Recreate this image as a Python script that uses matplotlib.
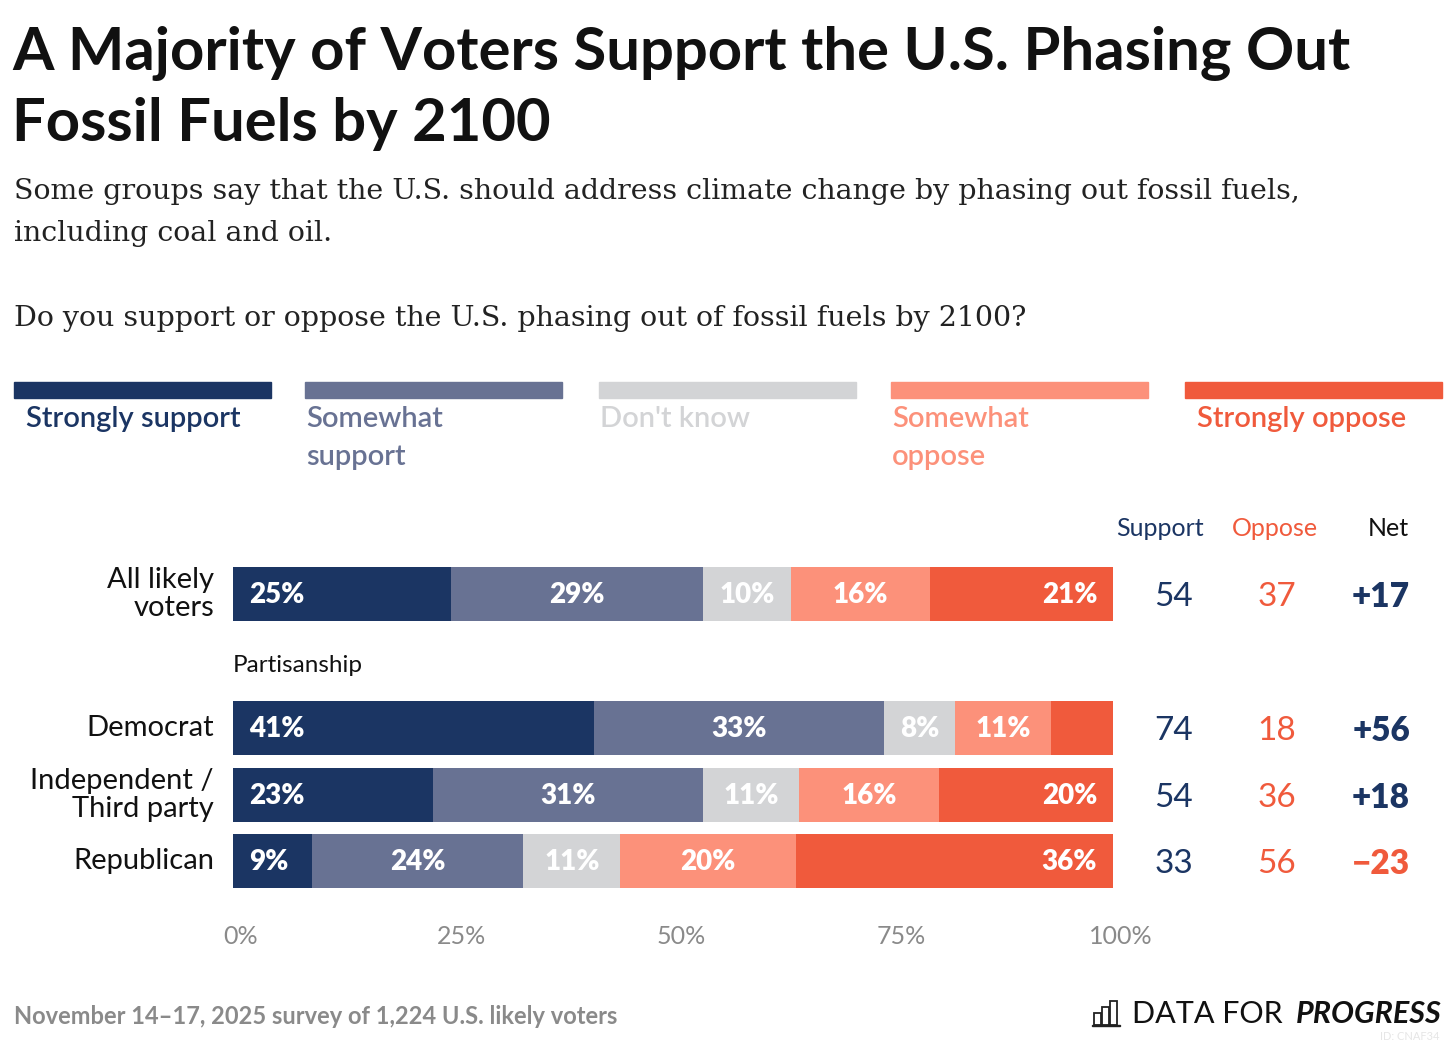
import matplotlib.pyplot as plt
import numpy as np

W, H = 1456, 1044

categories = ["Strongly support", "Somewhat support", "Don't know", "Somewhat oppose", "Strongly oppose"]
legend_labels = ["Strongly support", "Somewhat\nsupport", "Don't know", "Somewhat\noppose", "Strongly oppose"]
colors = ["#1b3563", "#687293", "#d3d4d6", "#fc917a", "#f05a3c"]
label_colors = ["#1b3563", "#687293", "#d3d4d6", "#fc917a", "#f05a3c"]

groups = ["All likely\nvoters", "Democrat", "Independent /\nThird party", "Republican"]
values = [
    [25, 29, 10, 16, 21],
    [41, 33, 8, 11, 7],
    [23, 31, 11, 16, 20],
    [9, 24, 11, 20, 36],
]
support = [54, 74, 54, 33]
oppose = [37, 18, 36, 56]
net = ["+17", "+56", "+18", "\u221223"]

SANS = ["Lato", "DejaVu Sans"]
SERIF = ["DejaVu Serif"]
plt.rcParams["font.family"] = SANS

fig = plt.figure(figsize=(W / 100, H / 100), dpi=100)


def px(x, y):
    return x / W, 1 - y / H


def text(x, y, s, **kw):
    fig.text(*px(x, y), s, **kw)


text(12, 26, "A Majority of Voters Support the U.S. Phasing Out\nFossil Fuels by 2100",
     fontsize=43, fontweight="bold", color="#111111", va="top", linespacing=1.36)
text(14, 178, "Some groups say that the U.S. should address climate change by phasing out fossil fuels,\n"
     "including coal and oil.", fontsize=20.5, family=SERIF, color="#222222", va="top", linespacing=1.72)
text(14, 318, "Do you support or oppose the U.S. phasing out of fossil fuels by 2100?",
     fontsize=20.5, family=SERIF, color="#222222", va="center")

# legend
leg_x = [14, 305, 599, 891, 1185]
for x0, lab, c, lc in zip(leg_x, legend_labels, colors, label_colors):
    fig.patches.append(plt.Rectangle(px(x0, 398), 257 / W, 16 / H, color=c, transform=fig.transFigure))
    text(x0 + 12 if x0 in (14, 1185) else x0 + 1, 406, lab, fontsize=21, color=lc,
         va="top", linespacing=1.55, fontweight="semibold")

# bars
x0, x1, y0, y1 = 233, 1113, 540, 900
ax = fig.add_axes([x0 / W, 1 - y1 / H, (x1 - x0) / W, (y1 - y0) / H])
ax.set_xlim(0, 1)
ax.set_ylim(y1, y0)
rows = [594, 728, 795, 861]
for yc, vals in zip(rows, values):
    tot = sum(vals)
    left = 0
    for i, v in enumerate(vals):
        w = v / tot
        ax.barh(yc, w, left=left, height=54, color=colors[i])
        if v >= 8 and not (i == 4 and yc == 728):
            if i == 4:
                ax.text(left + w - 0.018, yc + 1, f"{v}%", ha="right", va="center",
                        color="white", fontsize=20, fontweight="heavy")
            elif i == 0:
                ax.text(left + 0.018, yc + 1, f"{v}%", ha="left", va="center",
                        color="white", fontsize=20, fontweight="heavy")
            else:
                ax.text(left + w / 2, yc + 1, f"{v}%", ha="center", va="center",
                        color="white", fontsize=20, fontweight="heavy")
        left += w
ax.axis("off")

for yc, g in zip(rows, groups):
    text(214, yc, g, ha="right", va="center", fontsize=21, color="#111111", linespacing=1.1)
text(233, 666, "Partisanship", fontsize=17.5, color="#111111", va="center")

# ticks
for t in [0, 25, 50, 75, 100]:
    text(x0 + t / 100 * (x1 - x0) + 8, 936, f"{t}%", ha="center", va="center",
         fontsize=18, color="#8a8a8a")

# summary columns
text(1160, 529, "Support", ha="center", va="center", fontsize=18, color="#1b3563")
text(1275, 529, "Oppose", ha="center", va="center", fontsize=18, color="#f05a3c")
text(1388, 529, "Net", ha="center", va="center", fontsize=18, color="#111111")
for yc, s, o, n in zip(rows, support, oppose, net):
    text(1174, yc + 3, str(s), ha="center", va="center", fontsize=24, color="#1b3563")
    text(1277, yc + 3, str(o), ha="center", va="center", fontsize=24, color="#f05a3c")
    text(1381, yc + 3, n, ha="center", va="center", fontsize=24, fontweight="heavy",
         color="#f05a3c" if n.startswith("\u2212") else "#1b3563")

text(14, 1016, "November 14\u201317, 2025 survey of 1,224 U.S. likely voters",
     fontsize=17, color="#8a8a8a", va="center", fontweight="bold")

# logo
for bx, bh in zip([1094, 1102, 1110], [12, 18, 24]):
    fig.patches.append(plt.Rectangle(px(bx, 1025), 7 / W, bh / H, fill=False, lw=1.3,
                                     edgecolor="#222222", transform=fig.transFigure))
fig.patches.append(plt.Rectangle(px(1092, 1026), 28 / W, 1.5 / H, color="#222222",
                                 transform=fig.transFigure))
text(1132, 1014, "DATA FOR", fontsize=22, color="#111111", va="center")
text(1442, 1014, "PROGRESS", fontsize=22, color="#111111", va="center", ha="right",
     fontweight="bold", style="italic")
text(1440, 1036, "ID: CNAF34", fontsize=8, color="#e6e6e6", ha="right", va="center")

fig.savefig("out.png", dpi=100)
